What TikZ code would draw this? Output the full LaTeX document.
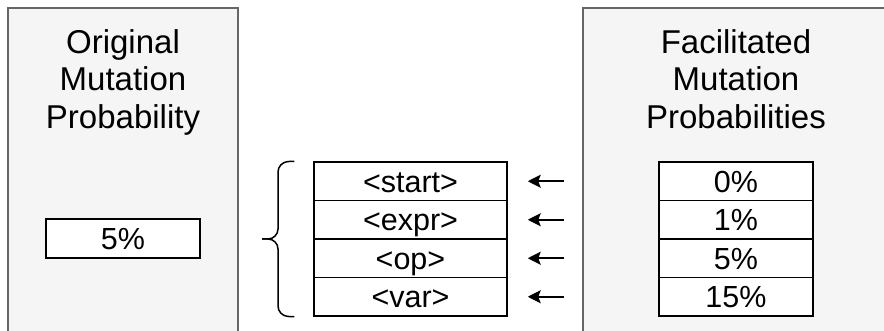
\documentclass[tikz,border=0pt]{standalone}
\usepackage{fontspec}
\setmainfont{Liberation Sans}
\usetikzlibrary{arrows.meta}
\definecolor{panelfill}{HTML}{F5F5F5}
\definecolor{panelline}{HTML}{666666}
\tikzset{
  panel/.style={fill=panelfill, draw=panelline, line width=1.3pt},
  cell/.style={draw=black, fill=white, line width=1.5pt, inner sep=0pt,
    minimum height=38.5pt, font=\fontsize{30.5}{34}\selectfont,
    text height=22pt, text depth=0pt},
  midcell/.style={cell, minimum width=193pt},
  probcell/.style={cell, minimum width=154pt},
  title/.style={align=center, inner sep=0pt, anchor=north,
    font=\fontsize{33}{37.5}\selectfont},
  arr/.style={-{Stealth[length=13pt,width=13pt,inset=2.5pt]}, line width=1.6pt,
    shorten >=20pt, shorten <=94pt},
  bracket/.style={line width=1.5pt, rounded corners=10pt}
}
\begin{document}
\begin{tikzpicture}[x=1pt,y=-1pt]
\useasboundingbox (0,0) rectangle (884,331);
\clip (0,0) rectangle (884,331);
% panels
\path[panel] (8,8) rectangle (238,345);
\path[panel] (583,8) rectangle (900,345);
% titles
\node[title] (t1) at (123,29) {Original\\Mutation\\Probability};
\node[title] (t2) at (736,29) {Facilitated\\Mutation\\Probabilities};
% left box
\node[probcell, minimum height=39pt] (orig) at (123,238.5) {5\%};
% middle table
\node[midcell] (s1) at (410.5,181.25) {<start>};
\node[midcell] (s2) at (410.5,219.75) {<expr>};
\node[midcell] (s3) at (410.5,258.25) {<op>};
\node[midcell] (s4) at (410.5,296.75) {<var>};
% right table
\node[probcell] (p1) at (736,181.25) {0\%};
\node[probcell] (p2) at (736,219.75) {1\%};
\node[probcell] (p3) at (736,258.25) {5\%};
\node[probcell] (p4) at (736,296.75) {15\%};
% arrows
\draw[arr] (p1.west) -- (s1.east);
\draw[arr] (p2.west) -- (s2.east);
\draw[arr] (p3.west) -- (s3.east);
\draw[arr] (p4.west) -- (s4.east);
% brace
\coordinate (btop) at ([xshift=-19pt]s1.north west);
\coordinate (bbot) at ([xshift=-19pt]s4.south west);
\coordinate (bmid) at (278,239);
\coordinate (btip) at (262,239);
\draw[bracket] (btop) -- (278,162) -- (bmid) -- (btip);
\draw[bracket] (btip) -- (bmid) -- (278,316) -- (bbot);
\end{tikzpicture}
\end{document}
